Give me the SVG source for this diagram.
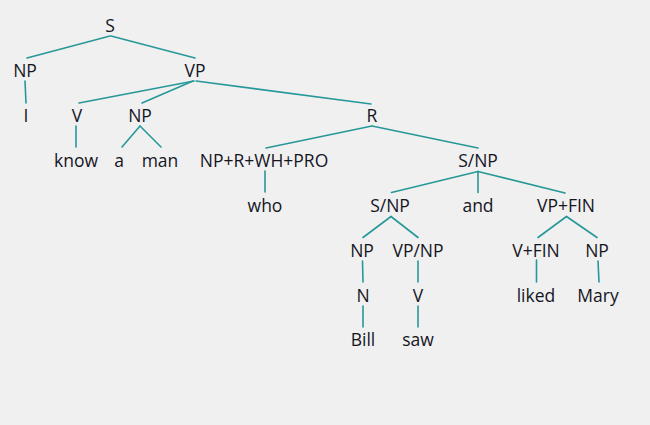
<svg xmlns="http://www.w3.org/2000/svg" width="650" height="425" viewBox="0 0 650 425">
<style>
text{font-family:"Open Sans","Noto Sans","DejaVu Sans",sans-serif;font-size:17.5px;fill:#15151f;text-anchor:middle}
.c line{stroke:#279898;stroke-width:1.6;stroke-linecap:round}
</style>
<rect width="650" height="425" fill="#f0f0f0"/>
<g class="c" id="connectors">
<line x1="110" y1="36" x2="27" y2="58"/>
<line x1="111" y1="36" x2="195" y2="58"/>
<line x1="25" y1="81" x2="26" y2="103"/>
<line x1="194" y1="81" x2="79" y2="103"/>
<line x1="193" y1="81" x2="142" y2="103"/>
<line x1="196" y1="81" x2="371" y2="104"/>
<line x1="76" y1="126" x2="76" y2="147"/>
<line x1="140" y1="126" x2="122" y2="147"/>
<line x1="140" y1="126" x2="161" y2="147"/>
<line x1="372" y1="126" x2="266" y2="148"/>
<line x1="372" y1="126" x2="478" y2="148"/>
<line x1="265" y1="171" x2="265" y2="192"/>
<line x1="478" y1="171.5" x2="391.5" y2="192.5"/>
<line x1="478" y1="171.5" x2="478" y2="192.5"/>
<line x1="478" y1="171.5" x2="565" y2="193"/>
<line x1="391" y1="216.5" x2="363" y2="237.5"/>
<line x1="391" y1="216.5" x2="418" y2="237.5"/>
<line x1="566.5" y1="216.5" x2="538" y2="237.5"/>
<line x1="566.5" y1="216.5" x2="597" y2="237.5"/>
<line x1="362.5" y1="261" x2="363" y2="282"/>
<line x1="418" y1="261" x2="418" y2="282"/>
<line x1="536.5" y1="260" x2="536.5" y2="282"/>
<line x1="598" y1="261" x2="599" y2="282"/>
<line x1="363" y1="306" x2="363" y2="327"/>
<line x1="418" y1="306" x2="418" y2="327"/>
</g>
<g id="n-S"><text x="110" y="31.5">S</text></g>
<g id="n-NP1"><text x="25" y="76.5">NP</text></g>
<g id="n-VP"><text x="195" y="76.5">VP</text></g>
<g id="n-I"><text x="26" y="121.5">I</text></g>
<g id="n-V1"><text x="77" y="121.5">V</text></g>
<g id="n-NP2"><text x="140" y="121.5">NP</text></g>
<g id="n-R"><text x="372" y="121.5">R</text></g>
<g id="n-know"><text x="76" y="166.5">know</text></g>
<g id="n-a"><text x="119" y="166.5">a</text></g>
<g id="n-man"><text x="160" y="166.5">man</text></g>
<g id="n-NPRWHPRO"><text x="264" y="166.5">NP+R+WH+PRO</text></g>
<g id="n-SNP1"><text x="478" y="166.5">S/NP</text></g>
<g id="n-who"><text x="265" y="211.5">who</text></g>
<g id="n-SNP2"><text x="390" y="211.5">S/NP</text></g>
<g id="n-and"><text x="478" y="211.5">and</text></g>
<g id="n-VPFIN"><text x="566" y="211.5">VP+FIN</text></g>
<g id="n-NP3"><text x="362" y="256.5">NP</text></g>
<g id="n-VPNP"><text x="418" y="256.5">VP/NP</text></g>
<g id="n-VFIN"><text x="536" y="256.5">V+FIN</text></g>
<g id="n-NP4"><text x="597" y="256.5">NP</text></g>
<g id="n-N"><text x="363" y="301.5">N</text></g>
<g id="n-V2"><text x="418" y="301.5">V</text></g>
<g id="n-liked"><text x="536" y="301.5">liked</text></g>
<g id="n-Mary"><text x="598" y="301.5">Mary</text></g>
<g id="n-Bill"><text x="363" y="345.5">Bill</text></g>
<g id="n-saw"><text x="418" y="345.5">saw</text></g>
</svg>
